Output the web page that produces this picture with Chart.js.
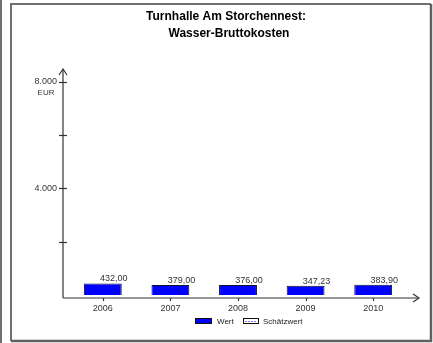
<!DOCTYPE html>
<html>
<head>
<meta charset="utf-8">
<script src="https://cdn.jsdelivr.net/npm/chart.js@4/dist/chart.umd.min.js"></script>
<style>
  html, body { margin: 0; padding: 0; background: #fff; }
  #wrap { width: 433px; height: 343px; }
</style>
</head>
<body>
<div id="wrap"><canvas id="myChart" width="433" height="343"></canvas></div>
<script>
var jahre = ['2006', '2007', '2008', '2009', '2010'];
var wert = [432.00, 379.00, 376.00, 347.23, 383.90];
var schaetzwert = [null, null, null, null, null];
var yTicks = [0, 2000, 4000, 6000, 8000];
var yLabels = { 8000: '8.000', 4000: '4.000' };
var titel = ['Turnhalle Am Storchennest:', 'Wasser-Bruttokosten'];
var einheit = 'EUR';

var FONT = '"Liberation Sans", Arial, sans-serif';

function fmt(v){
    return v.toFixed(2).replace('.', ',');
}

function arrowHead(ctx, x, y, dir){
    ctx.beginPath();
    if(dir == 'up'){
        ctx.moveTo(x - 4, y + 6); ctx.lineTo(x, y); ctx.lineTo(x + 4, y + 6);
    } else {
        ctx.moveTo(x - 6, y - 4); ctx.lineTo(x, y); ctx.lineTo(x - 6, y + 4);
    }
    ctx.stroke();
}

var zeichnung = {
    id: 'zeichnung',
    beforeDraw: function(chart){
        var ctx = chart.ctx;
        ctx.save();
        ctx.fillStyle = '#fff';
        ctx.fillRect(0, 0, chart.width, chart.height);
        // rahmen
        ctx.strokeStyle = '#707070';
        ctx.lineWidth = 2;
        ctx.beginPath(); ctx.moveTo(1, 0); ctx.lineTo(1, 343); ctx.stroke();
        ctx.beginPath();
        ctx.moveTo(11, 341); ctx.lineTo(11, 4); ctx.lineTo(431, 4);
        ctx.stroke();
        ctx.strokeStyle = '#606060';
        ctx.lineWidth = 2.5;
        ctx.beginPath();
        ctx.moveTo(431, 4); ctx.lineTo(431, 341); ctx.lineTo(11, 341);
        ctx.stroke();
        // titel
        ctx.fillStyle = '#000';
        ctx.font = 'bold 12px ' + FONT;
        ctx.textAlign = 'center';
        ctx.textBaseline = 'middle';
        ctx.fillText(titel[0], 226, 17);
        ctx.fillText(titel[1], 229, 34);
        ctx.restore();
    },
    afterDraw: function(chart){
        var ctx = chart.ctx;
        var xs = chart.scales.x, ys = chart.scales.y;
        var area = chart.chartArea;
        var ax = 63, ay = area.bottom;
        ctx.save();
        ctx.strokeStyle = '#333';
        ctx.lineWidth = 1.2;
        // achsen
        ctx.beginPath(); ctx.moveTo(ax, ay); ctx.lineTo(ax, 69); ctx.stroke();
        arrowHead(ctx, ax, 69, 'up');
        ctx.beginPath(); ctx.moveTo(ax, ay); ctx.lineTo(419, ay); ctx.stroke();
        arrowHead(ctx, 419, ay, 'right');
        for(var i = 1; i < yTicks.length; i++){
            var py = Math.round(ys.getPixelForValue(yTicks[i])) + 0.5;
            ctx.beginPath(); ctx.moveTo(ax - 4, py); ctx.lineTo(ax + 4, py); ctx.stroke();
        }
        for(var i = 0; i < jahre.length; i++){
            var px = Math.round(xs.getPixelForValue(i)) + 0.5;
            ctx.beginPath(); ctx.moveTo(px, ay); ctx.lineTo(px, ay + 3); ctx.stroke();
        }
        ctx.fillStyle = '#333';
        ctx.font = '8px ' + FONT;
        ctx.textAlign = 'center';
        ctx.textBaseline = 'middle';
        ctx.fillText(einheit, 46, ys.getPixelForValue(8000) + 11);

        // werte
        var meta = chart.getDatasetMeta(0);
        ctx.font = '9px ' + FONT;
        ctx.textAlign = 'center';
        ctx.textBaseline = 'alphabetic';
        meta.data.forEach(function(bar, i){
            ctx.fillText(fmt(wert[i]), bar.x + 11, bar.y - 2);
        });

        // legende
        ctx.font = '8px ' + FONT;
        ctx.textAlign = 'left';
        ctx.textBaseline = 'middle';
        var ly = 321;
        ctx.fillStyle = '#0000ff';
        ctx.fillRect(195, ly - 3, 17, 6);
        ctx.strokeStyle = '#111';
        ctx.lineWidth = 1;
        ctx.strokeRect(195.5, ly - 2.5, 16, 5);
        ctx.fillStyle = '#222';
        ctx.fillText(chart.data.datasets[0].label, 217, ly + 1);
        ctx.fillStyle = '#fff';
        ctx.fillRect(243, ly - 3, 16, 6);
        ctx.strokeStyle = '#111';
        ctx.strokeRect(243.5, ly - 2.5, 15, 5);
        ctx.strokeStyle = '#8080ff';
        ctx.setLineDash([2, 1]);
        ctx.beginPath(); ctx.moveTo(245, ly + 0.5); ctx.lineTo(257, ly + 0.5); ctx.stroke();
        ctx.setLineDash([]);
        ctx.fillStyle = '#222';
        ctx.fillText(chart.data.datasets[1].label, 263, ly + 1);
        ctx.restore();
    }
};

var ctx = document.getElementById('myChart');
var myChart = new Chart(ctx, {
    type: 'bar',
    data: {
        labels: jahre,
        datasets: [{
            label: 'Wert',
            data: wert,
            backgroundColor: '#0000ff',
            borderColor: '#111133',
            borderWidth: 1,
            barPercentage: 0.56,
            categoryPercentage: 1
        }, {
            label: 'Schätzwert',
            data: schaetzwert,
            backgroundColor: '#ffffff',
            borderColor: '#111111',
            borderWidth: 1,
            barPercentage: 0.56,
            categoryPercentage: 1
        }]
    },
    options: {
        responsive: false,
        animation: false,
        grouped: false,
        layout: { padding: { top: 82, left: 11, right: 26, bottom: 23 } },
        plugins: {
            legend: { display: false },
            title: { display: false },
            tooltip: { enabled: false }
        },
        scales: {
            x: {
                offset: true,
                grid: { display: false, drawTicks: false },
                border: { display: false },
                ticks: {
                    padding: 5,
                    color: '#333',
                    font: { family: FONT, size: 9 }
                },
                afterFit: function(scale){ scale.height = 22; }
            },
            y: {
                min: -113,
                max: 8000,
                grid: { display: false, drawTicks: false },
                border: { display: false },
                afterBuildTicks: function(scale){
                    scale.ticks = yTicks.map(function(v){ return { value: v }; });
                },
                ticks: {
                    padding: 12,
                    color: '#333',
                    font: { family: FONT, size: 9 },
                    callback: function(v){ return yLabels[v] || ''; }
                },
                afterFit: function(scale){ scale.width = 58; }
            }
        }
    },
    plugins: [zeichnung]
});
</script>
</body>
</html>
